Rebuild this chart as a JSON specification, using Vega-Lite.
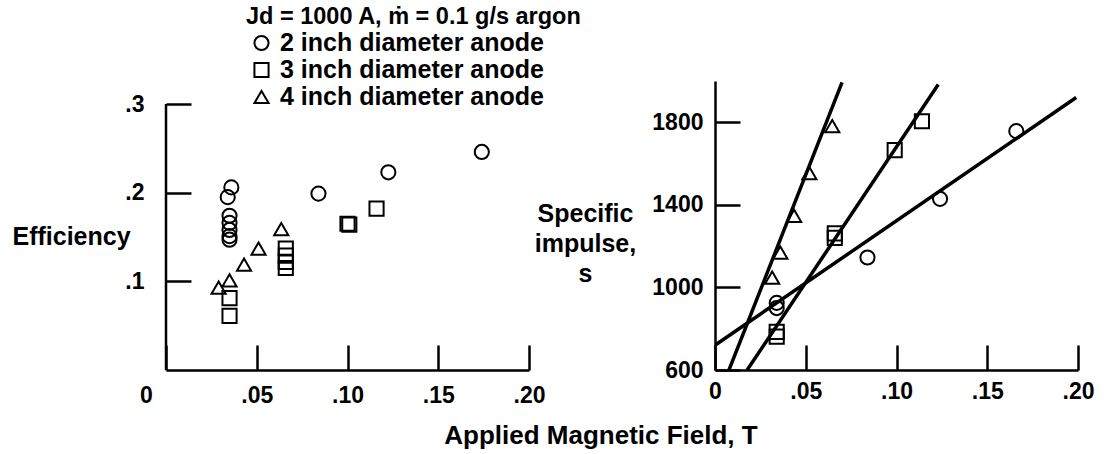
{
  "$schema": "https://vega.github.io/schema/vega-lite/v6.json",
  "autosize": {"type": "pad"},
  "padding": {"left": 11, "top": 5, "right": 5, "bottom": 5},
  "background": "white",
  "datasets": {
    "eff": [
      {"anode": "2 inch diameter anode", "B": 0.036, "efficiency": 0.206},
      {"anode": "2 inch diameter anode", "B": 0.034, "efficiency": 0.195},
      {"anode": "2 inch diameter anode", "B": 0.035, "efficiency": 0.174},
      {"anode": "2 inch diameter anode", "B": 0.035, "efficiency": 0.166},
      {"anode": "2 inch diameter anode", "B": 0.035, "efficiency": 0.158},
      {"anode": "2 inch diameter anode", "B": 0.035, "efficiency": 0.151},
      {"anode": "2 inch diameter anode", "B": 0.035, "efficiency": 0.147},
      {"anode": "2 inch diameter anode", "B": 0.084, "efficiency": 0.199},
      {"anode": "2 inch diameter anode", "B": 0.1225, "efficiency": 0.223},
      {"anode": "2 inch diameter anode", "B": 0.174, "efficiency": 0.246},
      {"anode": "3 inch diameter anode", "B": 0.035, "efficiency": 0.081},
      {"anode": "3 inch diameter anode", "B": 0.035, "efficiency": 0.061},
      {"anode": "3 inch diameter anode", "B": 0.066, "efficiency": 0.137},
      {"anode": "3 inch diameter anode", "B": 0.066, "efficiency": 0.129},
      {"anode": "3 inch diameter anode", "B": 0.066, "efficiency": 0.122},
      {"anode": "3 inch diameter anode", "B": 0.066, "efficiency": 0.115},
      {"anode": "3 inch diameter anode", "B": 0.1, "efficiency": 0.165},
      {"anode": "3 inch diameter anode", "B": 0.101, "efficiency": 0.164},
      {"anode": "3 inch diameter anode", "B": 0.116, "efficiency": 0.182},
      {"anode": "4 inch diameter anode", "B": 0.029, "efficiency": 0.093},
      {"anode": "4 inch diameter anode", "B": 0.035, "efficiency": 0.101},
      {"anode": "4 inch diameter anode", "B": 0.043, "efficiency": 0.119},
      {"anode": "4 inch diameter anode", "B": 0.051, "efficiency": 0.137},
      {"anode": "4 inch diameter anode", "B": 0.0635, "efficiency": 0.159}
    ],
    "isp": [
      {"anode": "2 inch diameter anode", "B": 0.034, "isp": 925},
      {"anode": "2 inch diameter anode", "B": 0.034, "isp": 900},
      {"anode": "2 inch diameter anode", "B": 0.084, "isp": 1145},
      {"anode": "2 inch diameter anode", "B": 0.124, "isp": 1429},
      {"anode": "2 inch diameter anode", "B": 0.166, "isp": 1757},
      {"anode": "3 inch diameter anode", "B": 0.034, "isp": 762},
      {"anode": "3 inch diameter anode", "B": 0.034, "isp": 785},
      {"anode": "3 inch diameter anode", "B": 0.066, "isp": 1240},
      {"anode": "3 inch diameter anode", "B": 0.066, "isp": 1262},
      {"anode": "3 inch diameter anode", "B": 0.099, "isp": 1665},
      {"anode": "3 inch diameter anode", "B": 0.114, "isp": 1805},
      {"anode": "4 inch diameter anode", "B": 0.0315, "isp": 1048},
      {"anode": "4 inch diameter anode", "B": 0.036, "isp": 1169},
      {"anode": "4 inch diameter anode", "B": 0.0436, "isp": 1347},
      {"anode": "4 inch diameter anode", "B": 0.052, "isp": 1554},
      {"anode": "4 inch diameter anode", "B": 0.0646, "isp": 1781}
    ],
    "fit": [
      {"anode": "2 inch diameter anode", "B": 0.0, "isp": 720},
      {"anode": "2 inch diameter anode", "B": 0.199, "isp": 1920},
      {"anode": "3 inch diameter anode", "B": 0.0177, "isp": 600},
      {"anode": "3 inch diameter anode", "B": 0.123, "isp": 1983},
      {"anode": "4 inch diameter anode", "B": 0.0077, "isp": 600},
      {"anode": "4 inch diameter anode", "B": 0.07, "isp": 1993}
    ]
  },
  "title": {
    "text": "Applied Magnetic Field, T",
    "orient": "bottom",
    "anchor": "middle",
    "offset": 16,
    "dx": 48,
    "fontSize": 26,
    "fontWeight": "bold",
    "font": "Liberation Sans",
    "color": "black"
  },
  "spacing": 186,
  "bounds": "flush",
  "hconcat": [
    {
      "width": 363,
      "height": 289,
      "layer": [
        {
          "data": {"name": "eff"},
          "mark": {"type": "point", "filled": false, "size": 200, "strokeWidth": 2, "color": "black", "opacity": 1},
          "encoding": {
            "x": {
              "field": "B", "type": "quantitative",
              "scale": {"domain": [0, 0.2], "nice": false, "zero": false},
              "axis": {
                "title": null,
                "domain": true,
                "values": [0, 0.05, 0.1, 0.15, 0.2],
                "labelExpr": "datum.value == 0 ? '0' : replace(format(datum.value, '.2f'), '0.', '.')",
                "labelPadding": 39,
                "labelOffset": {"condition": {"test": "datum.value == 0", "value": -20}, "value": 0}
              }
            },
            "y": {
              "field": "efficiency", "type": "quantitative",
              "scale": {"domain": [0, 0.326], "nice": false, "zero": false},
              "axis": {
                "title": "Efficiency",
                "titleAngle": 0,
                "titleAlign": "center",
                "titleBaseline": "middle",
                "titleX": -95,
                "titleY": 155,
                "titleFontSize": 25,
                "values": [0.1, 0.2, 0.3],
                "labelExpr": "replace(format(datum.value, '.1f'), '0.', '.')",
                "labelPadding": 47,
                "domain": false
              }
            },
            "shape": {
              "field": "anode", "type": "nominal",
              "scale": {
                "domain": ["2 inch diameter anode", "3 inch diameter anode", "4 inch diameter anode"],
                "range": ["circle", "square", "triangle-up"]
              },
              "legend": {
                "title": "Jd = 1000 A, ṁ = 0.1 g/s argon",
                "orient": "none",
                "legendX": 80,
                "legendY": -76
              }
            }
          }
        },
        {
          "data": {"values": [{}]},
          "mark": {"type": "rule", "strokeWidth": 2.5, "color": "black"},
          "encoding": {
            "x": {"datum": 0, "type": "quantitative"},
            "y": {"datum": 0, "type": "quantitative"},
            "y2": {"datum": 0.3}
          }
        }
      ]
    },
    {
      "width": 363,
      "height": 289,
      "layer": [
        {
          "data": {"name": "fit"},
          "mark": {"type": "line", "strokeWidth": 3.5, "color": "black", "clip": true},
          "encoding": {
            "x": {
              "field": "B", "type": "quantitative",
              "scale": {"domain": [0, 0.2], "nice": false, "zero": false},
              "axis": {
                "title": null,
                "domain": true,
                "values": [0, 0.05, 0.1, 0.15, 0.2],
                "labelExpr": "datum.value == 0 ? '0' : replace(format(datum.value, '.2f'), '0.', '.')",
                "labelPadding": 35
              }
            },
            "y": {
              "field": "isp", "type": "quantitative",
              "scale": {"domain": [600, 2000], "nice": false, "zero": false},
              "axis": {
                "title": ["Specific", "impulse,", "s"],
                "titleAngle": 0,
                "titleAlign": "center",
                "titleBaseline": "alphabetic",
                "titleX": -130,
                "titleY": 140,
                "titleLineHeight": 30,
                "titleFontSize": 25,
                "values": [600, 1000, 1400, 1800],
                "format": "d",
                "labelPadding": 37
              }
            },
            "detail": {"field": "anode", "type": "nominal"}
          }
        },
        {
          "data": {"name": "isp"},
          "mark": {"type": "point", "filled": false, "size": 200, "strokeWidth": 2, "color": "black", "opacity": 1},
          "encoding": {
            "x": {"field": "B", "type": "quantitative"},
            "y": {"field": "isp", "type": "quantitative"},
            "shape": {"field": "anode", "type": "nominal"}
          }
        }
      ]
    }
  ],
  "config": {
    "font": "Liberation Sans",
    "view": {"stroke": null},
    "axis": {
      "grid": false,
      "domainColor": "black",
      "domainWidth": 2.5,
      "tickColor": "black",
      "tickWidth": 2.5,
      "tickSize": -25,
      "labelFont": "Liberation Sans",
      "labelFontSize": 23,
      "labelFontWeight": "bold",
      "labelColor": "black",
      "labelFlush": false,
      "labelOverlap": false,
      "titleFont": "Liberation Sans",
      "titleFontWeight": "bold",
      "titleColor": "black"
    },
    "legend": {
      "titleFont": "Liberation Sans",
      "titleFontSize": 23.5,
      "titleFontWeight": "bold",
      "titleColor": "black",
      "titlePadding": 2,
      "titleLimit": 600,
      "labelFont": "Liberation Sans",
      "labelFontSize": 25,
      "labelFontWeight": "bold",
      "labelColor": "black",
      "labelLimit": 600,
      "labelOffset": 6,
      "symbolSize": 200,
      "symbolStrokeWidth": 2,
      "symbolStrokeColor": "black",
      "symbolFillColor": "transparent",
      "symbolOffset": 3,
      "rowPadding": 1,
      "padding": 0
    }
  }
}
